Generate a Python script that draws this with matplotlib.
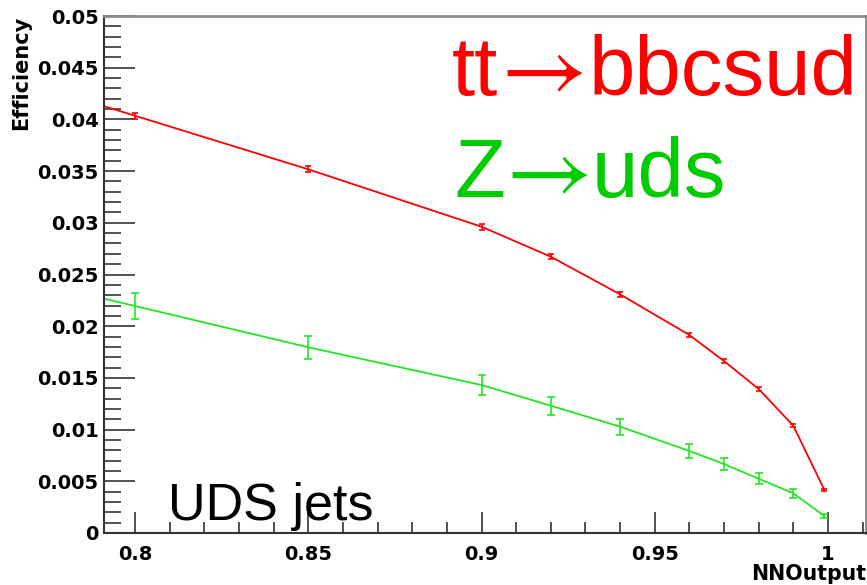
import matplotlib
matplotlib.use("Agg")
import matplotlib.pyplot as plt
from matplotlib.ticker import MultipleLocator, FixedLocator

# NN output cut values
nn_cut = [0.75, 0.80, 0.85, 0.90, 0.92, 0.94, 0.96, 0.97, 0.98, 0.99, 0.999]

# tt -> bbcsud sample: UDS jet efficiency and its uncertainty
eff_tt = [0.0455, 0.04035, 0.03517, 0.02962, 0.02672, 0.02308, 0.01915,
          0.01663, 0.01393, 0.01038, 0.00416]
err_tt = [0.0003, 0.0003, 0.0003, 0.00028, 0.00026, 0.00024, 0.00022,
          0.0002, 0.00018, 0.00016, 0.00012]

# Z -> uds sample: UDS jet efficiency and its uncertainty
eff_z = [0.0259, 0.02195, 0.01796, 0.01431, 0.01231, 0.01028, 0.00793,
         0.00667, 0.00525, 0.00384, 0.00164]
err_z = [0.0013, 0.00126, 0.00113, 0.00097, 0.00087, 0.00077, 0.00068,
         0.0006, 0.00055, 0.00042, 0.00022]

y_ticks = [0, 0.005, 0.01, 0.015, 0.02, 0.025, 0.03, 0.035, 0.04, 0.045, 0.05]
y_tick_labels = ["0", "0.005", "0.01", "0.015", "0.02", "0.025", "0.03",
                 "0.035", "0.04", "0.045", "0.05"]
x_ticks = [0.8, 0.85, 0.9, 0.95, 1.0]
x_tick_labels = ["0.8", "0.85", "0.9", "0.95", "1"]

RED = "#ff0000"
GREEN_LINE = "#22e622"
GREEN_TEXT = "#00cc00"

W, H = 867, 585
fig = plt.figure(figsize=(W / 100, H / 100), dpi=100)
ax = fig.add_axes([104 / W, 52 / H, 762 / W, 517 / H])

ax.errorbar(nn_cut, eff_tt, yerr=err_tt, color=RED, lw=1.3,
            elinewidth=1.2, capsize=2.5, capthick=1.2)
ax.errorbar(nn_cut, eff_z, yerr=err_z, color=GREEN_LINE, lw=1.3,
            elinewidth=1.2, capsize=3, capthick=1.2)

ax.set_xlim(0.791, 1.011)
ax.set_ylim(0, 0.05)

tick_font = dict(family="DejaVu Sans", weight="bold", size=14)
ax.yaxis.set_major_locator(FixedLocator(y_ticks))
ax.set_yticklabels(y_tick_labels, **tick_font)
ax.yaxis.set_minor_locator(MultipleLocator(0.001))
ax.xaxis.set_major_locator(FixedLocator(x_ticks))
ax.set_xticklabels(x_tick_labels, **tick_font)
ax.xaxis.set_minor_locator(MultipleLocator(0.01))

ax.tick_params(axis="y", which="major", direction="in", length=22, width=1.2,
               pad=4, color="#333333", right=False)
ax.tick_params(axis="y", which="minor", direction="in", length=12, width=1.2,
               color="#333333", right=False)
ax.tick_params(axis="x", which="major", direction="in", length=15, width=1.2,
               pad=9, color="#333333", top=False)
ax.tick_params(axis="x", which="minor", direction="in", length=8, width=1.2,
               color="#333333", top=False)

for side in ("left", "bottom"):
    ax.spines[side].set_color("#333333")
    ax.spines[side].set_linewidth(1.5)
for side in ("top", "right"):
    ax.spines[side].set_color("#8a8a8a")
    ax.spines[side].set_linewidth(2)

fig.text(11 / W, 1 - 16 / H, "Efficiency", rotation=90, ha="left", va="top",
         family="DejaVu Sans", weight="bold", size=15)
fig.text(866 / W, 1 / H, "NNOutput", ha="right", va="bottom",
         family="DejaVu Sans", weight="bold", size=14.8)


def process_label(x_px, baseline_px, parts, color):
    """Write a decay label: initial state, thin arrow, final state."""
    left, arrow_left, right = x_px
    y = 1 - baseline_px / H
    fig.text(left / W, y, parts[0], color=color, family="Liberation Sans",
             size=60, ha="left", va="baseline")
    fig.text(arrow_left / W, y - 1 / H, "\u2192", color=color,
             family="STIXGeneral", size=68, ha="left", va="baseline")
    fig.text(right / W, y, parts[1], color=color, family="Liberation Sans",
             size=60, ha="left", va="baseline")


process_label((452, 500, 589), 95, ("tt", "bbcsud"), RED)
process_label((454, 505, 592), 197, ("Z", "uds"), GREEN_TEXT)

fig.text(168 / W, 1 - 520 / H, "UDS jets", color="black",
         family="Liberation Sans", size=37.5, ha="left", va="baseline")

fig.savefig("out.png", dpi=100)
